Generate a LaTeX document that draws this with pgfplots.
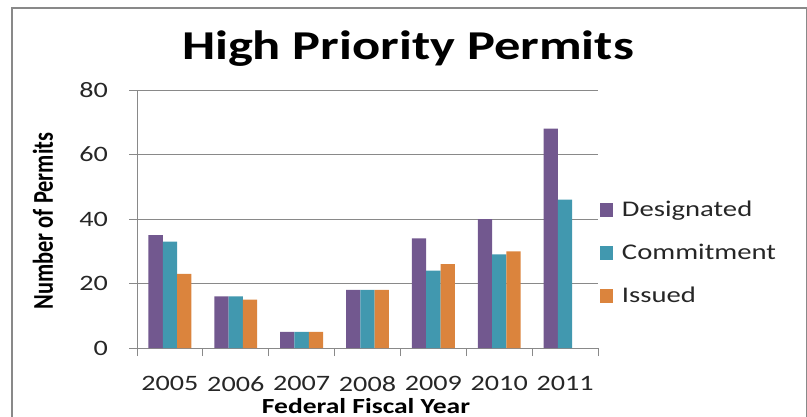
\documentclass[border=0pt]{standalone}
\usepackage{pgfplots}
\pgfplotsset{compat=1.18}
\usepackage{fontspec}
\usepackage{graphicx}
\setmainfont{Carlito}[FakeStretch=1.28]
\newfontfamily\plainlabelfont{Carlito}
\definecolor{desig}{HTML}{72588F}
\definecolor{commit}{HTML}{4198AF}
\definecolor{issued}{HTML}{DB843D}
\definecolor{gridgray}{HTML}{898989}
\definecolor{labeltext}{HTML}{262626}

\begin{document}
\begin{tikzpicture}[x=1pt,y=1pt]
\path[use as bounding box] (0,0) rectangle (807,416);
\begin{scope}
\clip (0,0) rectangle (807,416);
% chart frame
\draw[gridgray, line width=1.6pt] (12,-5) -- (12,408) -- (806.5,408) -- (806.5,-5);

\begin{axis}[
  at={(137pt,68pt)}, anchor=south west,
  scale only axis, width=461pt, height=258pt,
  xmin=-0.5, xmax=6.5, ymin=0, ymax=80,
  ytick={0,20,...,80},
  xtick={0,...,6},
  xticklabels={2005,2006,2007,2008,2009,2010,2011},
  minor xtick={-0.5,0.5,...,6.5},
  axis x line*=bottom, axis y line*=left,
  axis line style={gridgray, line width=1pt},
  ymajorgrids, grid style={gridgray, line width=1pt},
  tick align=outside,
  major tick length=8pt, minor tick length=8pt,
  major x tick style={draw=none},
  minor x tick style={gridgray, line width=1pt},
  major y tick style={gridgray, line width=1pt},
  /pgf/number format/assume math mode=true,
  tick label style={font=\fontsize{22}{26}\selectfont, text=labeltext},
  xticklabel style={anchor=north, inner sep=0pt, yshift=-20pt},
  yticklabel style={anchor=east, inner sep=0pt, xshift=-21pt},
  ybar=0pt, bar width=14.3pt,
  legend cell align=left,
  legend style={draw=none, fill=none, inner sep=0pt, outer sep=0pt,
    at={(axis description cs:1.0043,0.5922)}, anchor=north west,
    row sep=0pt, column sep=9pt,
    nodes={inner sep=0pt, text height=21.5pt, text depth=21.5pt,
      font=\fontsize{22.4}{27}\selectfont, text=labeltext}},
]
\addplot[fill=desig, draw=none,
  legend image code/.code={\fill[desig] (0pt,0pt) rectangle (13pt,13.4pt);}]
  coordinates {(0,35) (1,16) (2,5) (3,18) (4,34) (5,40) (6,68)};
\addlegendentry{Designated}
\addplot[fill=commit, draw=none,
  legend image code/.code={\fill[commit] (0pt,0pt) rectangle (13pt,13.4pt);}]
  coordinates {(0,33) (1,16) (2,5) (3,18) (4,24) (5,29) (6,46)};
\addlegendentry{Commitment}
\addplot[fill=issued, draw=none,
  legend image code/.code={\fill[issued] (0pt,0pt) rectangle (13pt,13.4pt);}]
  coordinates {(0,23) (1,15) (2,5) (3,18) (4,26) (5,30)};
\addlegendentry{Issued}
\end{axis}

% titles
\node[anchor=base, font=\bfseries\fontsize{41}{49}\selectfont] at (408,356.7) {High Priority Permits};
\node[anchor=base, inner sep=0pt, font=\bfseries\fontsize{21.5}{26}\selectfont] at (366,3) {Federal Fiscal Year};
\node at (43,195) {\scalebox{1.28}[1]{\rotatebox{90}{\plainlabelfont\bfseries\fontsize{22.4}{27}\selectfont Number of Permits}}};
\end{scope}
\end{tikzpicture}
\end{document}
